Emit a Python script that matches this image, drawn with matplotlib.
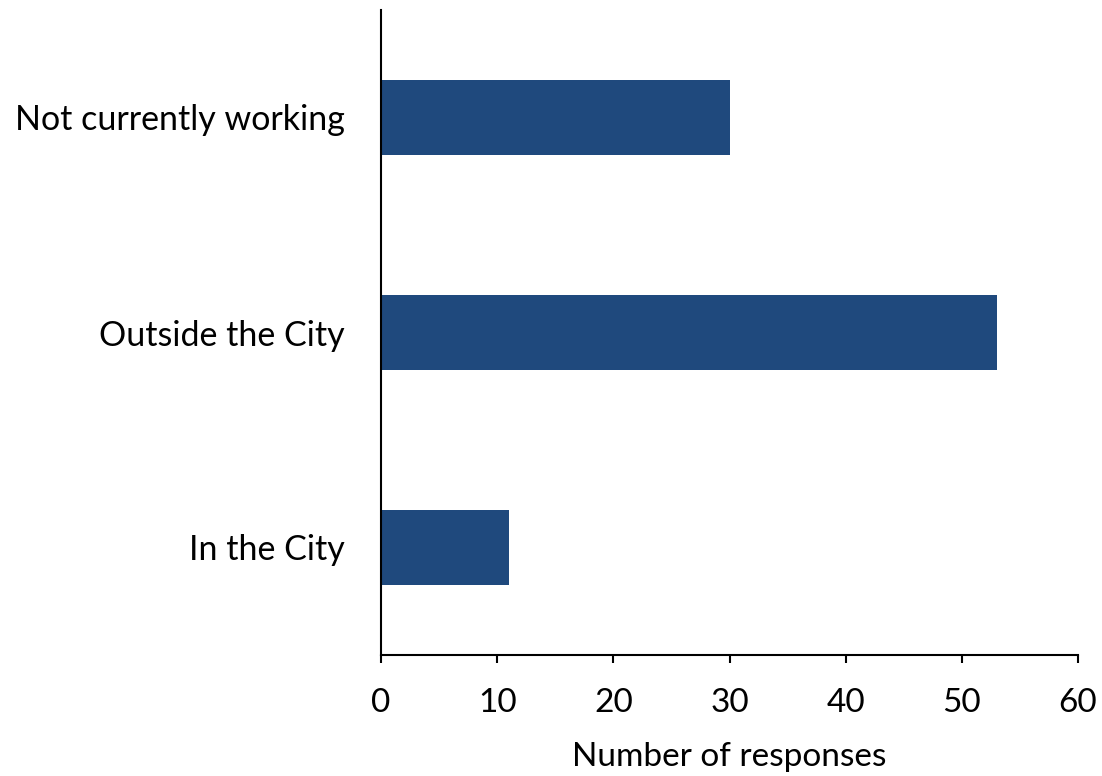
import matplotlib
matplotlib.use("Agg")
import matplotlib.pyplot as plt

categories = ["In the City", "Outside the City", "Not currently working"]
responses = [11, 53, 30]
x_ticks = [0, 10, 20, 30, 40, 50, 60]

plt.rcParams["font.family"] = ["Lato", "DejaVu Sans"]

fig = plt.figure(figsize=(11.02, 7.76), dpi=100)
ax = fig.add_axes([381 / 1102, 1 - 655 / 776, 697 / 1102, 645 / 776])

ax.barh(range(len(categories)), responses, height=0.35, color="#1f497d")

ax.set_xlim(0, 60)
ax.set_ylim(-0.5, 2.5)
ax.set_xticks(x_ticks)
ax.set_yticks(range(len(categories)))
ax.set_yticklabels(categories)

for side in ["top", "right"]:
    ax.spines[side].set_visible(False)
ax.spines["left"].set_linewidth(1.5)
ax.spines["bottom"].set_linewidth(1.5)

ax.tick_params(axis="x", direction="out", length=6, width=1.5, pad=18, labelsize=24)
ax.tick_params(axis="y", length=0, pad=26, labelsize=24.5)
ax.set_xlabel("Number of responses", fontsize=24, labelpad=17)

fig.savefig("out.png", dpi=100, facecolor="white")
